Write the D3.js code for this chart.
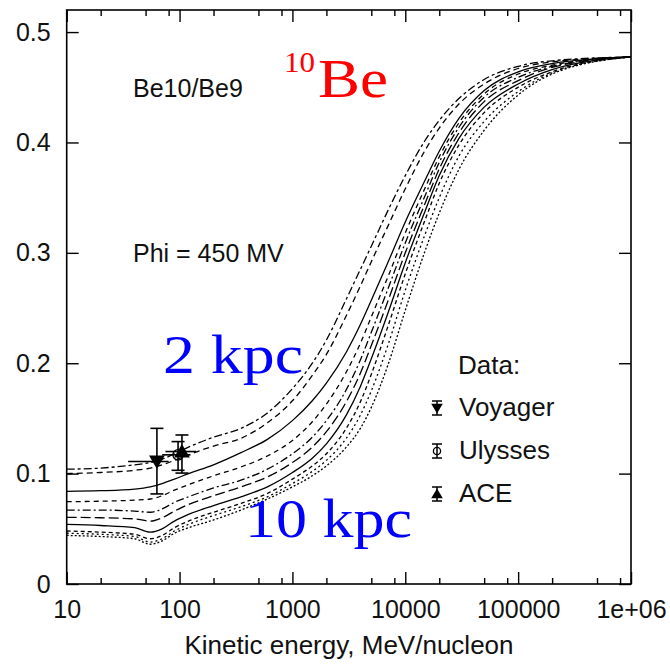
<!DOCTYPE html>
<html><head><meta charset="utf-8">
<script src="https://cdn.jsdelivr.net/npm/d3@7"></script>
<style>body{margin:0;background:#fff}svg{display:block}</style>
</head><body>
<svg id="chart" width="670" height="668"></svg>
<script>
// ---------- data ----------
const energies = [10, 20, 40, 55, 70, 90, 120, 200, 350, 600, 1000, 1500, 2000, 3000, 4000, 5000, 7000, 10000, 15000, 20000, 30000, 50000, 100000, 200000, 1000000];
const curve1 = [.104, .105, .108, .110, .113, .118, .124, .133, .141, .155, .177, .200, .221, .258, .285, .306, .338, .370, .402, .420, .440, .457, .469, .474, .4775];
const curve2 = [.100, .101, .103, .105, .108, .112, .117, .125, .132, .146, .166, .189, .208, .243, .270, .292, .324, .358, .393, .413, .435, .453, .467, .473, .4775];
const curve3 = [.084, .0845, .086, .088, .091, .095, .100, .108, .119, .131, .148, .166, .182, .210, .235, .257, .291, .328, .366, .392, .422, .447, .464, .4715, .4775];
const curve4 = [.0746, .075, .076, .077, .080, .085, .090, .098, .106, .116, .130, .147, .163, .192, .218, .242, .278, .318, .359, .387, .418, .444, .462, .470, .4775];
const curve5 = [.067, .067, .066, .065, .068, .074, .079, .087, .094, .104, .118, .133, .148, .176, .203, .228, .267, .309, .352, .382, .414, .441, .459, .469, .4775];
const curve6 = [.0604, .060, .059, .057, .060, .066, .072, .080, .088, .097, .110, .124, .138, .165, .191, .216, .256, .300, .345, .376, .409, .437, .456, .468, .4775];
const curve7 = [.054, .053, .051, .047, .050, .057, .063, .071, .079, .088, .101, .114, .127, .153, .179, .204, .245, .291, .338, .370, .404, .432, .453, .466, .4775];
const curve8 = [.048, .047, .045, .041, .044, .051, .057, .065, .073, .082, .095, .107, .118, .141, .165, .190, .233, .281, .330, .363, .398, .427, .450, .464, .4775];
const curve9 = [.046, .045, .043, .038, .041, .048, .054, .062, .070, .079, .091, .102, .112, .132, .153, .175, .216, .266, .317, .350, .388, .419, .446, .463, .4775];
const curve10 = [.044, .043, .041, .036, .039, .046, .051, .058, .067, .077, .088, .098, .107, .124, .141, .160, .198, .248, .302, .336, .376, .411, .443, .462, .4775];

const dataNames = ["Voyager", "Ulysses", "ACE"];
const dataEnergy = [63, 97, 105];
const dataRatio = [0.111, 0.117, 0.120];
const dataRatioLo = [0.0816, 0.103, 0.1005];
const dataRatioHi = [0.141, 0.129, 0.135];
const dataEnergyLo = [35, 70, 75];
const dataEnergyHi = [80, 125, 140];

const xMajorTicks = [10, 100, 1000, 10000, 100000, 1000000];
const xTickLabels = ["10", "100", "1000", "10000", "100000", "1e+06"];
const xMinorMultipliers = [2, 5, 8];
const yTicks = [0, 0.1, 0.2, 0.3, 0.4, 0.5];
const yTickLabels = ["0", "0.1", "0.2", "0.3", "0.4", "0.5"];

// ---------- styles ----------
const curves = [curve1, curve2, curve3, curve4, curve5, curve6, curve7, curve8, curve9, curve10];
const dashes = ["8,3,3,3", "6,4", null, "5,4", "8,3,2,3", "10,4", null, "4,3", "2,3", "2,2"];

const svg = d3.select("#chart");
const L = 66.7, R = 631, T = 10, B = 584;
const x = d3.scaleLog().domain([10, 1e6]).range([L, R]);
const y = d3.scaleLinear().domain([0, 0.52]).range([B, T]);
const sans = "'Liberation Sans', Arial, Helvetica, sans-serif";
const serif = "'Liberation Serif', 'Times New Roman', Times, serif";

const xMinor = [];
xMajorTicks.slice(0, -1).forEach(d => xMinorMultipliers.forEach(m => xMinor.push(d * m)));

function styleAxis(g) {
  g.select(".domain").remove();
  g.selectAll(".tick line").attr("stroke", "#000").attr("stroke-width", 1.4);
  g.selectAll("text").attr("font-family", sans).attr("font-size", 25).attr("fill", "#111");
}

svg.append("g").attr("transform", `translate(0,${B})`)
  .call(d3.axisBottom(x).tickValues(xMajorTicks).tickSize(-12).tickPadding(16)
    .tickFormat((d, i) => xTickLabels[i])).call(styleAxis);
svg.append("g").attr("transform", `translate(0,${B})`)
  .call(d3.axisBottom(x).tickValues(xMinor).tickSize(-6).tickFormat("")).call(styleAxis);
svg.append("g").attr("transform", `translate(0,${T})`)
  .call(d3.axisTop(x).tickValues(xMajorTicks).tickSize(-12).tickFormat("")).call(styleAxis);
svg.append("g").attr("transform", `translate(0,${T})`)
  .call(d3.axisTop(x).tickValues(xMinor).tickSize(-6).tickFormat("")).call(styleAxis);
svg.append("g").attr("transform", `translate(${L},0)`)
  .call(d3.axisLeft(y).tickValues(yTicks).tickSize(-12).tickPadding(16)
    .tickFormat((d, i) => yTickLabels[i])).call(styleAxis);
svg.append("g").attr("transform", `translate(${R},0)`)
  .call(d3.axisRight(y).tickValues(yTicks).tickSize(-12).tickFormat("")).call(styleAxis);

svg.append("rect").attr("x", L).attr("y", T).attr("width", R - L).attr("height", B - T)
  .attr("fill", "none").attr("stroke", "#000").attr("stroke-width", 1.6);

const line = d3.line().x(d => x(d[0])).y(d => y(d[1])).curve(d3.curveMonotoneX);
curves.forEach((c, i) => {
  svg.append("path").datum(energies.map((e, j) => [e, c[j]]))
    .attr("d", line).attr("fill", "none").attr("stroke", "#000")
    .attr("stroke-width", 1.3).attr("stroke-dasharray", dashes[i]);
});

const capW = 6.5;
function drawMarker(g, name, cx, cy, s) {
  if (name === "Voyager") {
    g.append("path").attr("d", `M${cx - s},${cy - s * 0.8}L${cx + s},${cy - s * 0.8}L${cx},${cy + s * 0.9}Z`).attr("fill", "#000");
  } else if (name === "ACE") {
    g.append("path").attr("d", `M${cx - s},${cy + s * 0.8}L${cx + s},${cy + s * 0.8}L${cx},${cy - s * 0.9}Z`).attr("fill", "#000");
  } else {
    g.append("circle").attr("cx", cx).attr("cy", cy).attr("r", s * 0.8).attr("fill", "none").attr("stroke", "#000").attr("stroke-width", 1.3);
  }
}
const pts = svg.append("g").attr("stroke", "#000").attr("stroke-width", 1.6);
dataNames.forEach((n, i) => {
  const cx = x(dataEnergy[i]), cy = y(dataRatio[i]);
  const y1 = y(dataRatioLo[i]), y2 = y(dataRatioHi[i]);
  pts.append("line").attr("x1", cx).attr("x2", cx).attr("y1", y1).attr("y2", y2);
  pts.append("line").attr("x1", cx - capW).attr("x2", cx + capW).attr("y1", y1).attr("y2", y1);
  pts.append("line").attr("x1", cx - capW).attr("x2", cx + capW).attr("y1", y2).attr("y2", y2);
  pts.append("line").attr("x1", x(dataEnergyLo[i])).attr("x2", x(dataEnergyHi[i])).attr("y1", cy).attr("y2", cy);
  drawMarker(pts, n, cx, cy, 6.5);
});

svg.append("text").attr("x", 458).attr("y", 374).text("Data:")
  .attr("font-family", sans).attr("font-size", 26).attr("fill", "#111");
dataNames.forEach((n, i) => {
  const ly = 408 + i * 43;
  const lg = svg.append("g").attr("stroke", "#000").attr("stroke-width", 1.5);
  lg.append("line").attr("x1", 437).attr("x2", 437).attr("y1", ly - 7).attr("y2", ly + 7);
  lg.append("line").attr("x1", 432).attr("x2", 442).attr("y1", ly - 7).attr("y2", ly - 7);
  lg.append("line").attr("x1", 432).attr("x2", 442).attr("y1", ly + 7).attr("y2", ly + 7);
  drawMarker(lg, n, 437, ly, 4.5);
  svg.append("text").attr("x", 459).attr("y", ly + 8).text(n)
    .attr("font-family", sans).attr("font-size", 26).attr("fill", "#111");
});

svg.append("text").attr("x", 133).attr("y", 97).text("Be10/Be9")
  .attr("font-family", sans).attr("font-size", 25).attr("fill", "#111");
svg.append("text").attr("x", 133).attr("y", 262).text("Phi = 450 MV")
  .attr("font-family", sans).attr("font-size", 25).attr("fill", "#111");
svg.append("text").attr("x", 349).attr("y", 654).attr("text-anchor", "middle")
  .text("Kinetic energy, MeV/nucleon")
  .attr("font-family", sans).attr("font-size", 26).attr("fill", "#111");

svg.append("text").attr("x", 284).attr("y", 72).text("10")
  .attr("font-family", serif).attr("font-size", 30).attr("fill", "#ff0000")
  .attr("textLength", 31).attr("lengthAdjust", "spacingAndGlyphs");
svg.append("text").attr("x", 318).attr("y", 97).text("Be")
  .attr("font-family", serif).attr("font-size", 54).attr("fill", "#ff0000")
  .attr("textLength", 70).attr("lengthAdjust", "spacingAndGlyphs");

svg.append("text").attr("x", 163).attr("y", 373).text("2 kpc")
  .attr("font-family", serif).attr("font-size", 55).attr("fill", "#0000ff")
  .attr("textLength", 140).attr("lengthAdjust", "spacingAndGlyphs");
svg.append("text").attr("x", 245).attr("y", 537).text("10 kpc")
  .attr("font-family", serif).attr("font-size", 55).attr("fill", "#0000ff")
  .attr("textLength", 167).attr("lengthAdjust", "spacingAndGlyphs");
</script>
</body></html>
